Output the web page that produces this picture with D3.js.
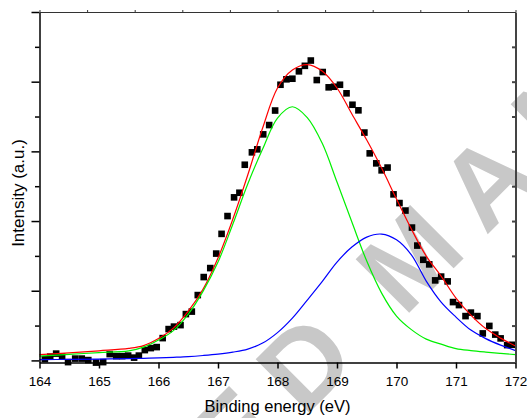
<!DOCTYPE html>
<meta charset="utf-8">
<script src="https://d3js.org/d3.v7.min.js"></script>
<style type="text/css">
  body { margin: 0; background: #fff; }
  text { font-family: "Liberation Sans", Arial, sans-serif; }
</style>
<body>
<svg width="527" height="418"></svg>
<script>

    // measured points (binding energy in eV, intensity in a.u.)
    let dataEnergy = [164.09,164.18,164.28,164.38,164.48,164.60,164.71,164.82,164.95,165.07,
                      165.18,165.29,165.39,165.49,165.59,165.67,165.77,165.87,165.97,166.07,
                      166.17,166.26,166.37,166.46,166.56,166.66,166.76,166.87,166.97,167.06,
                      167.16,167.27,167.36,167.45,167.57,167.66,167.76,167.86,167.96,168.05,
                      168.15,168.25,168.36,168.46,168.56,168.66,168.76,168.86,168.95,169.05,
                      169.16,169.26,169.36,169.46,169.55,169.66,169.75,169.85,169.95,170.05,
                      170.15,170.26,170.35,170.45,170.55,170.65,170.75,170.86,170.95,171.05,
                      171.16,171.25,171.36,171.45,171.56,171.66,171.75,171.86,171.95]
    let dataIntensity = [0.37,1.09,1.95,1.09,-0.49,0.52,0.52,0.09,-0.63,-0.49,
                         1.81,1.23,1.23,1.38,0.80,1.38,2.96,3.53,3.82,6.40,
                         8.99,9.70,10.13,13.29,14.01,18.75,23.92,26.50,30.66,36.32,
                         41.43,46.80,48.12,56.16,59.72,60.58,64.88,67.55,71.72,79.12,
                         80.68,80.85,82.97,84.55,86.07,80.47,82.77,78.38,78.55,79.12,
                         76.66,73.38,71.78,65.40,59.43,56.56,54.55,55.35,47.66,45.16,
                         43.01,38.13,32.96,28.88,27.56,22.97,24.06,22.68,16.74,15.88,
                         12.72,13.72,12.72,7.75,9.90,7.41,6.32,4.39,4.48]

    // fitted curves, read along a common energy grid
    let fitEnergy = [164.0,164.5,165.0,165.5,165.75,166.0,166.25,166.5,166.75,167.0,
                     167.25,167.5,167.75,168.0,168.25,168.5,168.75,169.0,169.25,169.5,
                     169.75,170.0,170.25,170.5,170.75,171.0,171.25,171.5,171.75,172.0]
    let envelope = [1.67,2.15,2.76,3.45,4.25,6.26,9.27,14.15,20.47,29.37,
                    40.57,53.20,66.69,78.18,83.35,84.92,83.06,78.18,70.71,63.25,
                    55.21,46.31,37.70,29.94,24.20,17.89,13.01,9.13,6.40,4.11]
    let peak1 = [1.23,1.75,2.24,2.76,3.82,5.83,8.56,13.29,19.90,28.22,
                 39.13,50.62,60.66,69.56,72.81,69.71,62.39,51.19,39.71,28.51,
                 19.32,12.72,8.84,6.12,4.68,3.39,2.81,2.38,2.01,1.67]
    let peak2 = [0.23,0.29,0.37,0.52,0.60,0.72,0.89,1.09,1.41,1.81,
                 2.38,3.24,4.97,7.98,12.14,17.31,22.62,28.22,32.53,35.40,
                 36.26,34.62,30.31,22.77,16.74,12.43,8.70,6.26,4.39,2.81]

    let xTicks = [164,165,166,167,168,169,170,171,172]

    let mL = 39.5, mR = 515.5, mT = 12, mB = 362.5

    let x = d3.scaleLinear().domain([164,172]).range([mL,mR]),
        y = d3.scaleLinear().domain([-0.6,100]).range([mB,mT])

    let svg = d3.select('svg')

    // watermark behind the plot
    let wm = svg.append('g')
        .attr('transform','translate(404,318) rotate(-45)')
        .style('fill','#c8c8c8')
        .style('font-weight','bold')
        .style('font-size','110px')
        .style('letter-spacing','24px')
    wm.append('text').attr('x',0).attr('text-anchor','start').text('MANUSCRIPT')
    wm.append('text').attr('x',-38).attr('text-anchor','end').text('ACCEPTED')

    let g = svg.append('g')

    // data squares
    g.selectAll('rect').data(dataEnergy).enter().append('rect')
        .attr('x', d=>x(d)-3.3)
        .attr('y', (d,i)=>y(dataIntensity[i])-3.3)
        .attr('width', 6.6)
        .attr('height', 6.6)
        .attr('fill', '#000')

    let line = arr => d3.line()
        .x(d=>x(d))
        .y((d,i)=>y(arr[i]))
        .curve(d3.curveCatmullRom)(fitEnergy)

    let curves = [[envelope,'#ff0000'],[peak1,'#00f000'],[peak2,'#0000ff']]
    g.selectAll('path.fit').data(curves).enter().append('path')
        .attr('class','fit')
        .attr('d', d=>line(d[0]))
        .attr('fill','none')
        .attr('stroke', d=>d[1])
        .attr('stroke-width',1.2)

    // axes
    let xAxis = svg.append('g').attr('transform',`translate(0,${mB})`)
        .call(d3.axisBottom(x).tickValues(xTicks).tickSize(6).tickSizeOuter(0).tickPadding(7.5).tickFormat(d3.format('d')))
    xAxis.selectAll('text').style('font-size','13.5px').attr('fill','#000')
    xAxis.selectAll('path,line').attr('stroke','#000').attr('stroke-width',1.5)

    let yMajor = svg.append('g').attr('transform',`translate(${mL},0)`)
        .call(d3.axisLeft(y).tickValues(d3.range(0,101,20)).tickSize(8).tickSizeOuter(0).tickFormat(''))
    let yMinor = svg.append('g').attr('transform',`translate(${mL},0)`)
        .call(d3.axisLeft(y).tickValues(d3.range(10,100,20)).tickSize(4.5).tickSizeOuter(0).tickFormat(''))
    yMinor.select('.domain').remove()
    yMajor.selectAll('path,line').attr('stroke','#000').attr('stroke-width',1.5)
    yMinor.selectAll('path,line').attr('stroke','#000').attr('stroke-width',1.5)

    let xTop = d3.scaleLinear().domain([0,10]).range([mL,mR])
    svg.append('g').attr('transform',`translate(0,${mT})`)
        .call(d3.axisTop(xTop).ticks(10).tickSize(2).tickSizeOuter(0).tickFormat(''))
        .selectAll('path,line').attr('stroke','#333').attr('stroke-width',1)

    svg.append('g').attr('transform',`translate(${mR},0)`)
        .call(d3.axisRight(y).tickValues(d3.range(10,100,10)).tickSize(-3.5).tickSizeOuter(0).tickFormat(''))
        .selectAll('path,line').attr('stroke','#444').attr('stroke-width',2)

    // axis titles
    svg.append('text')
        .attr('x', (mL+mR)/2)
        .attr('y', 412)
        .attr('text-anchor','middle')
        .style('font-size','16.5px')
        .text('Binding energy (eV)')

    svg.append('text')
        .attr('transform','translate(24,193) rotate(-90)')
        .attr('text-anchor','middle')
        .style('font-size','17px')
        .text('Intensity (a.u.)')

</script>
</body>
